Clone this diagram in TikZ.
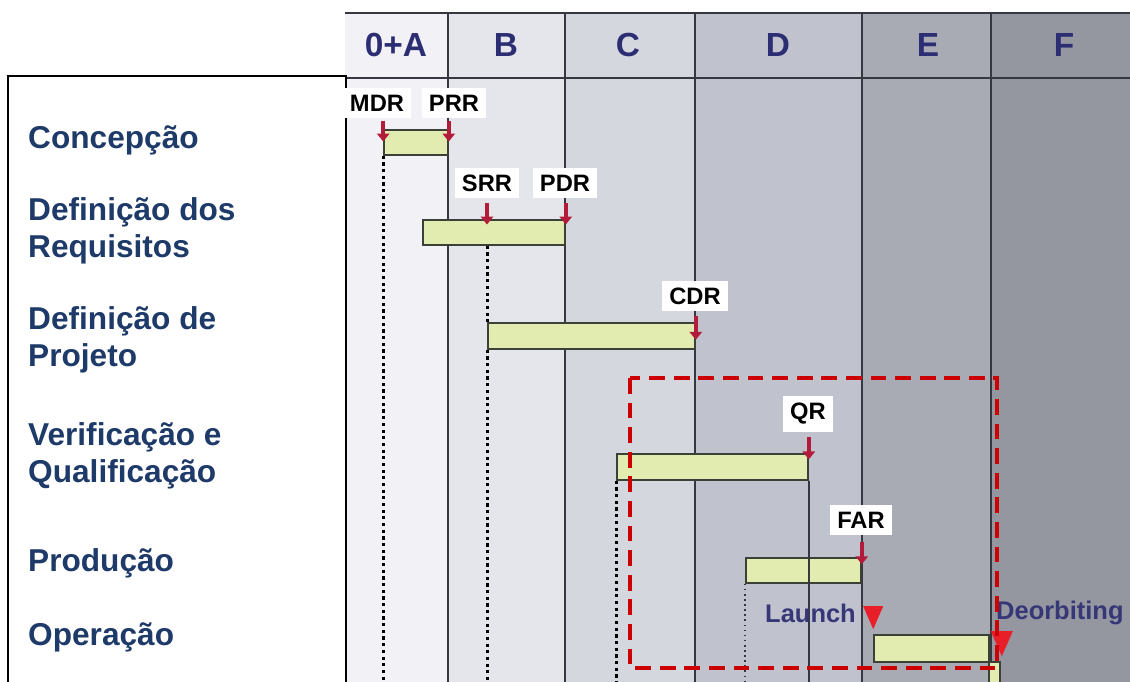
\documentclass[tikz,border=0pt]{standalone}
\usepackage{fontspec}
\setmainfont{Liberation Sans}
\usetikzlibrary{arrows.meta,fit,positioning}
\definecolor{colA}{RGB}{242,242,246}
\definecolor{colB}{RGB}{229,230,235}
\definecolor{colC}{RGB}{213,215,222}
\definecolor{colD}{RGB}{192,195,205}
\definecolor{colE}{RGB}{168,171,180}
\definecolor{colF}{RGB}{148,150,160}
\definecolor{gridline}{RGB}{55,55,65}
\definecolor{headblue}{RGB}{45,45,115}
\definecolor{phaseblue}{RGB}{30,58,105}
\definecolor{eventblue}{RGB}{55,55,120}
\definecolor{barfill}{RGB}{226,236,176}
\definecolor{barline}{RGB}{60,65,55}
\definecolor{msred}{RGB}{178,28,58}
\definecolor{trired}{RGB}{232,30,40}
\definecolor{boxred}{RGB}{204,0,0}

\begin{document}
\begin{tikzpicture}[x=0.02cm,y=-0.02cm,
  head/.style={font=\fontsize{19}{19}\selectfont\bfseries,text=headblue},
  phase/.style={anchor=west,align=left,font=\fontsize{18}{21}\selectfont\bfseries,text=phaseblue},
  mslbl/.style={fill=white,font=\fontsize{13.5}{14}\selectfont\bfseries,inner xsep=4pt,inner ysep=4pt},
  bar/.style={draw=barline,fill=barfill,line width=0.9pt,inner sep=0pt},
  ms/.style={draw=msred,line width=2.4pt,-{Triangle[length=4.5pt,width=7pt]}},
  colline/.style={draw=gridline,line width=1.1pt},
  dots/.style={dotted,line width=1.8pt},
  tri/.style={fill=trired},
  event/.style={font=\fontsize{14.5}{14.5}\selectfont\bfseries,text=eventblue}]
\useasboundingbox (0,0) rectangle (1130,682);
\coordinate (bot) at (0,684);

\foreach \xa/\xb/\c in {345/448/colA,448/565/colB,565/695/colC,695/862/colD,862/991/colE,991/1132/colF}
  \fill[\c] (\xa,13) rectangle (\xb,684);
\foreach \x in {448,565,695,862,991}
  \draw[colline] (\x,13) -- (\x,684);
\draw[colline] (345,13) -- (1132,13) (345,78) -- (1132,78);
\foreach \xc/\t/\n in {396/0+A/a,506/B/b,628/C/c,778/D/d,928/E/e,1064/F/f}
  \node[head] (h\n) at (\xc,45) {\t};

\draw[line width=1.1pt,fill=white] (8,76) rectangle (346,690);
\node[phase] (p1) at (22,140) {Concepção};
\node[phase] (p2) at (22,231) {Definição dos\\Requisitos};
\node[phase] (p3) at (22,340) {Definição de\\Projeto};
\node[phase] (p4) at (22,456) {Verificação e\\Qualificação};
\node[phase] (p5) at (22,563) {Produção};
\node[phase] (p6) at (22,637) {Operação};

\node[bar,fit={(384,130) (448,155)}] (b1) {};
\node[bar,fit={(423,220) (565,245)}] (b2) {};
\node[bar,fit={(488,323) (695,349)}] (b3) {};
\node[bar,fit={(617,454) (808,480)}] (b4) {};
\node[bar,fit={(746,558) (861,583)}] (b5) {};
\node[bar,fit={(874,635) (989,662)}] (b6) {};
\draw[bar] (989,662) rectangle (1000,686);

\draw[dots] (b1.south west) -- (b1.south west |- bot);
\draw[dots] (b3.north west |- b2.south) -- (b3.north west);
\draw[dots] (b3.south west) -- (b3.south west |- bot);
\draw[dots] (b4.south west) -- (b4.south west |- bot);
\draw[dots,line width=0.9pt,gridline] (b5.south west) -- (b5.south west |- bot);
\draw[gridline,line width=0.8pt] (b4.south east) -- (b4.south east |- bot);

\node[mslbl] (mdr) at (377,103) {MDR};
\node[mslbl] (prr) at (454,103) {PRR};
\node[mslbl] (srr) at (487,183) {SRR};
\node[mslbl] (pdr) at (565,183) {PDR};
\node[mslbl] (cdr) at (695,296) {CDR};
\node[mslbl] (qr) at (808,414) {QR};
\node[mslbl] (far) at (861,520) {FAR};

\draw[ms] ([yshift=4.5pt]b1.north west) -- ([yshift=-7pt]b1.north west);
\draw[ms] ([yshift=4.5pt]b1.north east) -- ([yshift=-7pt]b1.north east);
\draw[ms] ([yshift=9pt]srr.south |- b2.north) -- ([yshift=-3pt]srr.south |- b2.north);
\draw[ms] ([yshift=9pt]b2.north east) -- ([yshift=-3pt]b2.north east);
\draw[ms] ([yshift=3.5pt]b3.north east) -- ([yshift=-10pt]b3.north east);
\draw[ms] ([yshift=9.5pt]b4.north east) -- ([yshift=-3.5pt]b4.north east);
\draw[ms] ([yshift=8.5pt]b5.north east) -- ([yshift=-4pt]b5.north east);

\node[event,anchor=east] (launch) at (862,613) {Launch};
\node[event,anchor=west] (deorb) at (990,613) {Deorbiting};
\fill[tri] (b6.north west) ++(-10,-28) -- ++(20,0) -- ++(-10,23) -- cycle;
\fill[tri] (b6.north east) ++(1,-3) -- ++(22,0) -- ++(-11,25) -- cycle;

\draw[boxred,line width=2.3pt,dash pattern=on 9pt off 5pt] (630,378) rectangle (997,668);
\end{tikzpicture}
\end{document}
